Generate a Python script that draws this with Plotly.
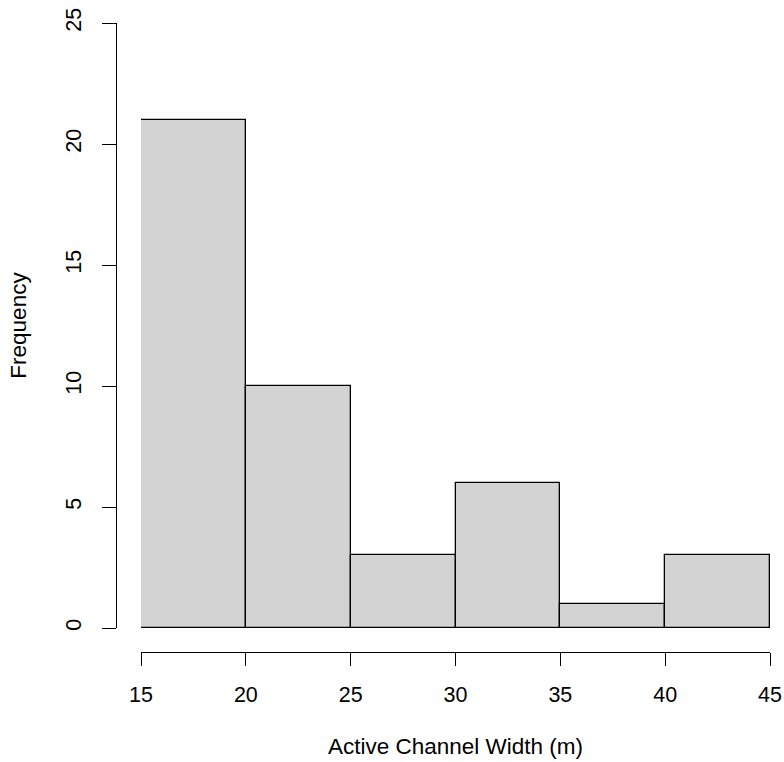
import plotly.graph_objects as go

bin_starts = [15, 20, 25, 30, 35, 40]
bin_width = 5
counts = [21, 10, 3, 6, 1, 3]
x_ticks = [15, 20, 25, 30, 35, 40, 45]
y_ticks = [0, 5, 10, 15, 20, 25]

centers = [s + bin_width / 2 for s in bin_starts]

fig = go.Figure(go.Bar(
    x=centers, y=counts, width=[bin_width] * len(counts),
    marker=dict(color="#D3D3D3", line=dict(color="black", width=1.3)),
    hoverinfo="x+y",
))

W, H = 784, 762
L, R, T, B = 116, 14, 23, 110
pw, ph = W - L - R, H - T - B
xd0 = (141 - 116) / pw
yd0 = (652 - 628) / ph

family = "Liberation Sans, Arial, sans-serif"
tick_font = dict(family=family, size=21.5, color="black")
title_font = dict(family=family, size=22.5, color="black")

fig.update_layout(
    width=W, height=H,
    margin=dict(l=L, r=R, t=T, b=B, pad=0, autoexpand=False),
    plot_bgcolor="white", paper_bgcolor="white",
    font=tick_font,
    showlegend=False,
    bargap=0,
    xaxis=dict(
        domain=[xd0, 1], range=[15, 45], anchor="free", position=0,
        tickmode="array", tickvals=x_ticks, ticktext=[str(v) for v in x_ticks],
        ticks="outside", ticklen=13, tickwidth=1.3, tickcolor="black",
        showline=True, linecolor="black", linewidth=1.3,
        showgrid=False, zeroline=False, automargin=False,
        tickfont=tick_font,
        ticklabelstandoff=10,
        title=dict(text="Active Channel Width (m)", standoff=32, font=title_font),
    ),
    yaxis=dict(
        domain=[yd0, 1], range=[0, 25], anchor="free", position=0,
        tickmode="array", tickvals=y_ticks, ticktext=[str(v) for v in y_ticks],
        ticks="outside", ticklen=14, tickwidth=1.3, tickcolor="black",
        tickangle=-90,
        showline=True, linecolor="black", linewidth=1.3,
        showgrid=False, zeroline=False, automargin=False,
        tickfont=tick_font,
        ticklabelstandoff=12,
        title=dict(text="Frequency", standoff=28, font=title_font),
    ),
)

fig.write_html("out.html")
